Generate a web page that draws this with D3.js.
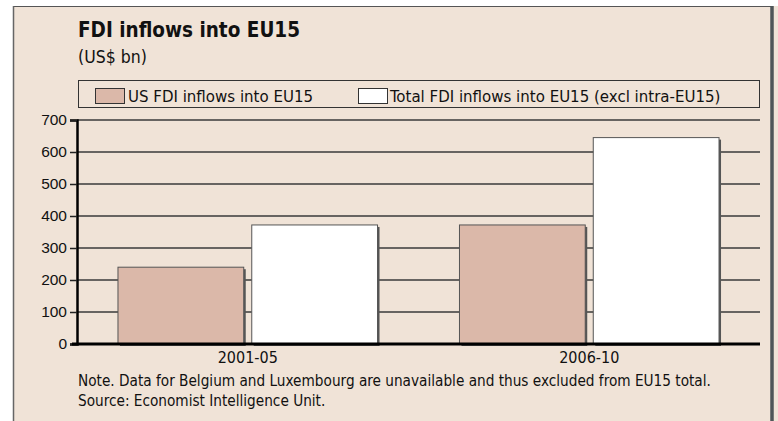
<!DOCTYPE html>
<html><head><meta charset="utf-8">
<script src="https://cdn.jsdelivr.net/npm/d3@7"></script>
<style>
html,body{margin:0;padding:0;background:#fff;}
svg{display:block;}
</style></head>
<body>
<script>
const categories = ["2001-05", "2006-10"];
const seriesNames = ["US FDI inflows into EU15", "Total FDI inflows into EU15 (excl intra-EU15)"];
const usValues = [240, 372];
const totalValues = [372, 645];
const yTicks = [0, 100, 200, 300, 400, 500, 600, 700];
const title = "FDI inflows into EU15";
const subtitle = "(US$ bn)";
const notes = ["Note. Data for Belgium and Luxembourg are unavailable and thus excluded from EU15 total.",
               "Source: Economist Intelligence Unit."];

const W = 778, H = 421;
const condensed = "'Liberation Sans Narrow','DejaVu Sans Condensed','Roboto Condensed',sans-serif";
const plain = "'Liberation Sans',Arial,sans-serif";
const colors = ["#dbb8a9", "#ffffff"];

const svg = d3.select("body").append("svg").attr("width", W).attr("height", H);
svg.append("rect").attr("x", 13).attr("y", 6).attr("width", W - 13).attr("height", H - 6).attr("fill", "#f0e3d7");
// frame
svg.append("line").attr("x1", 13).attr("x2", 772).attr("y1", 6.5).attr("y2", 6.5).attr("stroke", "#555").attr("stroke-width", 1.2);
svg.append("line").attr("x1", 13.5).attr("x2", 13.5).attr("y1", 6).attr("y2", H).attr("stroke", "#666").attr("stroke-width", 1.5);
svg.append("line").attr("x1", 772).attr("x2", 772).attr("y1", 6).attr("y2", H).attr("stroke", "#4f5659").attr("stroke-width", 3.5);

svg.append("text").attr("x", 78).attr("y", 37).attr("font-family", condensed).attr("font-weight", "bold")
  .attr("font-size", 20.5).attr("fill", "#111").text(title);
svg.append("text").attr("x", 78).attr("y", 63).attr("font-family", condensed)
  .attr("font-size", 17.5).attr("fill", "#111").text(subtitle);

// legend
svg.append("rect").attr("x", 78.5).attr("y", 80.5).attr("width", 681).attr("height", 27).attr("fill", "none").attr("stroke", "#333");
const legX = [95, 358], legTextX = [128, 390];
seriesNames.forEach((n, i) => {
  svg.append("rect").attr("x", legX[i] + 0.5).attr("y", 88.5).attr("width", 29).attr("height", 15)
    .attr("fill", colors[i]).attr("stroke", "#333");
  svg.append("text").attr("x", legTextX[i]).attr("y", 101.5).attr("font-family", condensed)
    .attr("font-size", 16.7).attr("fill", "#111").text(n);
});

// scales
const x0 = d3.scaleBand().domain(categories).range([77, 760]).paddingInner(0.24).paddingOuter(0.12);
const x1 = d3.scaleBand().domain([0, 1]).range([0, x0.bandwidth()]).paddingInner(0.06);
const y = d3.scaleLinear().domain([0, 700]).range([344, 120]);

// gridlines
svg.append("g").selectAll("line").data(yTicks.filter(d => d > 0)).join("line")
  .attr("x1", 77).attr("x2", 760).attr("y1", d => y(d)).attr("y2", d => y(d))
  .attr("stroke", "#3a3a3a").attr("stroke-width", 1.3);

// y axis
const yAxis = svg.append("g").attr("transform", "translate(77,0)")
  .call(d3.axisLeft(y).tickValues(yTicks).tickSize(7).tickPadding(3));
yAxis.select(".domain").attr("stroke", "#000").attr("stroke-width", 2.5);
yAxis.selectAll(".tick line").attr("stroke", "#222").attr("stroke-width", 1.5);
yAxis.selectAll(".tick text").attr("font-family", plain).attr("font-size", 15.5).attr("fill", "#111");

// bars
const data = categories.map((c, i) => ({c, vals: [usValues[i], totalValues[i]]}));
const groups = svg.append("g").selectAll("g").data(data).join("g")
  .attr("transform", d => `translate(${x0(d.c)},0)`);
groups.selectAll("rect.shadow").data(d => d.vals.map((v, i) => ({v, i}))).join("rect")
  .attr("class", "shadow")
  .attr("x", d => x1(d.i) + 2).attr("y", d => y(d.v) + 2)
  .attr("width", x1.bandwidth()).attr("height", d => y(0) - y(d.v))
  .attr("fill", "#555");
groups.selectAll("rect.bar").data(d => d.vals.map((v, i) => ({v, i}))).join("rect")
  .attr("class", "bar")
  .attr("x", d => x1(d.i)).attr("y", d => y(d.v))
  .attr("width", x1.bandwidth()).attr("height", d => y(0) - y(d.v))
  .attr("fill", d => colors[d.i]).attr("stroke", "#555").attr("stroke-width", 1);

// baseline
svg.append("line").attr("x1", 72).attr("x2", 760).attr("y1", y(0)).attr("y2", y(0))
  .attr("stroke", "#000").attr("stroke-width", 3);

// x axis labels
const xAxis = svg.append("g").attr("transform", `translate(0,${y(0)})`)
  .call(d3.axisBottom(x0).tickSize(0).tickPadding(8));
xAxis.select(".domain").remove();
xAxis.selectAll("text").attr("font-family", condensed).attr("font-size", 16).attr("fill", "#111");

// notes
notes.forEach((t, i) => {
  svg.append("text").attr("x", 78).attr("y", 386 + i * 20).attr("font-family", condensed)
    .attr("font-size", 15.2).attr("fill", "#111").text(t);
});
</script>
</body></html>
